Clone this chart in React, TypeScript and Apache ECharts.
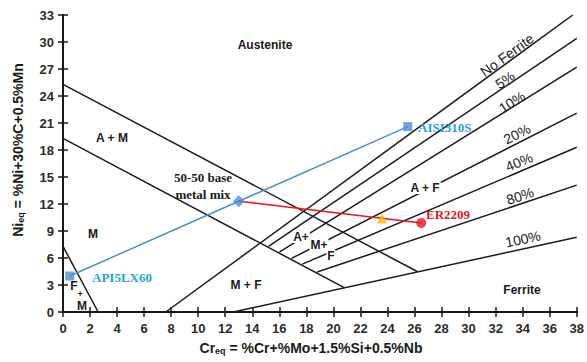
import React, { useEffect, useRef } from "react";
import * as echarts from "echarts";

// Axes
const crMin = 0, crMax = 38, crStep = 2;
const niMin = 0, niMax = 33, niStep = 3;

// Phase boundaries [Cr_eq, Ni_eq]
const upperMartensite = [[0, 25.3], [26.2, 4.5]];
const lowerMartensite = [[0, 19.3], [20.8, 2.7]];
const ferriteMartensite = [[0, 7.3], [2.6, 0]];
const noFerrite = [[7.6, 0], [37.7, 33]];
const ferrite5 = [[15.2, 7.29], [38, 30.4]];
const ferrite10 = [[16.0, 6.66], [38, 27.2]];
const ferrite20 = [[16.9, 5.95], [38, 22.1]];
const ferrite40 = [[17.7, 5.32], [38, 18.3]];
const ferrite80 = [[18.8, 4.45], [38, 14.1]];
const ferrite100 = [[12.6, 0], [38, 8.3]];
const boundaries = [upperMartensite, lowerMartensite, ferriteMartensite, noFerrite,
  ferrite5, ferrite10, ferrite20, ferrite40, ferrite80, ferrite100];

// Materials
const api5lx60 = [0.5, 4.0];
const baseMix = [13.0, 12.3];
const aisi310s = [25.5, 20.6];
const er2209 = [26.5, 9.9];
const weldPoint = [23.6, 10.4];

const BLUE = "#4a8fd3";
const BLUE_TXT = "#1fa2e8";
const RED = "#e8141b";
const INK = "#1a1a1a";

function txt(x: number, y: number, text: string, o: any = {}) {
  return {
    type: "text", x, y, rotation: ((o.rot || 0) * Math.PI) / 180, z: 100,
    style: {
      text, fill: o.color || INK,
      font: o.font || "bold 12px 'Liberation Sans', Arial, sans-serif",
      align: o.align || "center", verticalAlign: "middle",
      backgroundColor: o.bg, padding: o.bg ? [0, 1] : 0,
      rich: o.rich,
    },
  };
}

export default function App() {
  const ref = useRef<HTMLDivElement>(null);
  useEffect(() => {
    if (!ref.current) return;
    const chart = echarts.init(ref.current, undefined, { renderer: "svg" });
    const axisLine = { show: true, lineStyle: { color: INK, width: 2 } };
    const tick = { show: true, inside: true, length: 5, lineStyle: { color: INK, width: 1.5 } };
    const label = { color: "#2a2a2a", fontSize: 13, fontWeight: "bold", fontFamily: "'Liberation Sans', Arial, sans-serif" };
    const serif = "bold 13px 'Liberation Serif', 'Times New Roman', serif";
    const ferriteFont = "14px 'Liberation Sans', Arial, sans-serif";
    const series: any[] = boundaries.map((b) => ({
      type: "line", data: b, symbol: "none", silent: true,
      lineStyle: { color: INK, width: 1.5 }, z: 2,
    }));
    series.push({
      type: "line", data: [api5lx60, baseMix, aisi310s], symbol: "none",
      lineStyle: { color: BLUE, width: 1.5 }, z: 3,
    });
    series.push({
      type: "line", data: [baseMix, er2209], symbol: "none",
      lineStyle: { color: RED, width: 1.5 }, z: 3,
    });
    series.push({ type: "scatter", data: [api5lx60, aisi310s], symbol: "rect", symbolSize: 9, itemStyle: { color: BLUE }, z: 4 });
    series.push({ type: "scatter", data: [baseMix], symbol: "diamond", symbolSize: 12, itemStyle: { color: BLUE }, z: 4 });
    series.push({ type: "scatter", data: [er2209], symbol: "circle", symbolSize: 10, itemStyle: { color: RED }, z: 4 });
    series.push({ type: "scatter", data: [weldPoint], symbol: "triangle", symbolSize: 10, itemStyle: { color: "#f7b500" }, z: 4 });

    chart.setOption({
      animation: false,
      grid: { left: 63, right: 10, top: 15, bottom: 50, containLabel: false },
      xAxis: [
        { type: "value", min: crMin, max: crMax, interval: crStep, position: "bottom",
          axisLine, axisTick: tick, splitLine: { show: false }, axisLabel: { ...label, margin: 10 } },
        { type: "value", min: crMin, max: crMax, interval: crStep, position: "top",
          axisLine, axisTick: tick, splitLine: { show: false }, axisLabel: { show: false } },
      ],
      yAxis: [
        { type: "value", min: niMin, max: niMax, interval: niStep, position: "left",
          axisLine, axisTick: tick, splitLine: { show: false }, axisLabel: { ...label, margin: 9 } },
        { type: "value", min: niMin, max: niMax, interval: niStep, position: "right",
          axisLine, axisTick: tick, splitLine: { show: false }, axisLabel: { show: false } },
      ],
      series,
      graphic: [
        // axis titles
        txt(18, 150, "{b|Ni}{s|eq}{b| = %Ni+30%C+0.5%Mn}", {
          rot: 90,
          rich: {
            b: { font: "bold 14px 'Liberation Sans', Arial, sans-serif", fill: INK },
            s: { font: "bold 9px 'Liberation Sans', Arial, sans-serif", fill: INK, verticalAlign: "bottom", padding: [6, 0, 0, 0] },
          },
        }),
        txt(311, 348, "{b|Cr}{s|eq}{b| = %Cr+%Mo+1.5%Si+0.5%Nb}", {
          rich: {
            b: { font: "bold 14px 'Liberation Sans', Arial, sans-serif", fill: INK },
            s: { font: "bold 9px 'Liberation Sans', Arial, sans-serif", fill: INK, verticalAlign: "bottom", padding: [6, 0, 0, 0] },
          },
        }),
        // region labels
        txt(265, 45, "Austenite"),
        txt(112, 138, "A + M"),
        txt(93, 234, "M"),
        txt(246, 285, "M + F"),
        txt(522, 290, "Ferrite"),
        txt(74, 286, "F"),
        txt(80, 294, "+", { font: "bold 9px 'Liberation Sans', Arial, sans-serif" }),
        txt(82, 306, "M"),
        txt(425, 188, "A + F", { bg: "#fff" }),
        txt(301, 237, "A+", { bg: "#fff" }),
        txt(319, 245, "M+", { bg: "#fff" }),
        txt(331, 256, "F", { bg: "#fff" }),
        // ferrite lines
        txt(507, 55, "No Ferrite", { rot: 36, font: ferriteFont }),
        txt(505, 80, "5%", { rot: 34, font: ferriteFont }),
        txt(512, 102, "10%", { rot: 32, font: ferriteFont }),
        txt(517, 134, "20%", { rot: 27, font: ferriteFont }),
        txt(519, 162, "40%", { rot: 23, font: ferriteFont }),
        txt(520, 196, "80%", { rot: 18, font: ferriteFont }),
        txt(523, 239, "100%", { rot: 12, font: ferriteFont }),
        // material labels
        txt(92, 277, "API5LX60", { align: "left", color: BLUE_TXT, font: serif }),
        txt(418, 127, "AISI310S", { align: "left", color: BLUE_TXT, font: serif }),
        txt(426, 214, "ER2209", { align: "left", color: RED, font: serif }),
        txt(203, 177, "50-50 base", { font: serif }),
        txt(203, 194, "metal mix", { font: serif }),
      ],
    });
    return () => chart.dispose();
  }, []);
  return <div ref={ref} style={{ position: "fixed", left: 0, top: 0, width: 587, height: 362, background: "#fff" }} />;
}
